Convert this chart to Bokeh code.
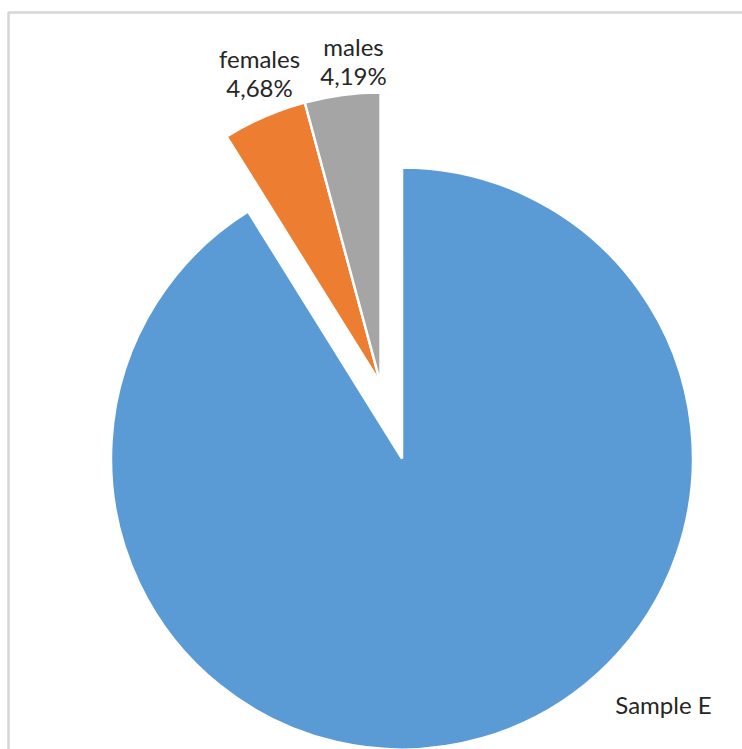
import numpy as np
from bokeh.plotting import figure
from bokeh.models import ColumnDataSource, Range1d
from bokeh.core.properties import value
from bokeh.embed import file_html
from bokeh.resources import INLINE

# Share of each group, in percent
categories = ["Sample E", "females", "males"]
shares = [91.13, 4.68, 4.19]
colors = ["#5B9BD5", "#ED7D31", "#A5A5A5"]
exploded = [False, True, True]
show_percent = [False, True, True]

W, H = 742, 749
cx, cy = 401.5, 291.0
radius = 291.0
explode_dist = 78.0

frac = np.array(shares) / sum(shares)
cum = np.concatenate([[0.0], np.cumsum(frac)])
start = np.pi / 2 - 2 * np.pi * cum[:-1]
end = np.pi / 2 - 2 * np.pi * cum[1:]

# the exploded slices are pulled out together along the bisector of their joint span
ex = np.array(exploded)
idx = np.where(ex)[0]
mid = (start[idx[0]] + end[idx[-1]]) / 2
xs = cx + np.where(ex, explode_dist * np.cos(mid), 0.0)
ys = cy + np.where(ex, explode_dist * np.sin(mid), 0.0)

src = ColumnDataSource(dict(
    cat=categories, x=xs, y=ys, start=start, end=end, color=colors,
))

p = figure(width=W, height=H, x_range=Range1d(0, W), y_range=Range1d(0, H),
           output_backend="svg", toolbar_location=None, min_border=0,
           x_axis_location=None, y_axis_location=None)
p.grid.visible = False
p.outline_line_color = None
p.background_fill_color = "white"

# chart frame
p.quad(left=8, right=W + 40, top=H - 12, bottom=-40,
       fill_color=None, line_color="#d6d6d6", line_width=2.5)

p.wedge(x="x", y="y", radius=radius, start_angle="start", end_angle="end",
        direction="clock", fill_color="color", line_color="white",
        line_width=2.5, source=src)

# data labels
label_text = []
for c, s, sp in zip(categories, shares, show_percent):
    if sp:
        label_text.append(f"{c}\n{s:.2f}%".replace(".", ","))
    else:
        label_text.append(c)
label_x = [663, 259, 353]
label_y = [H - 704, H - 72, H - 60]
lab = ColumnDataSource(dict(x=label_x, y=label_y, t=label_text))
p.text(x="x", y="y", text="t", source=lab, text_align="center",
       text_baseline="middle", text_font=value("Lato"),
       text_font_size="24px", text_color="#262626", text_line_height=1.0)

open("out.html", "w").write(file_html(p, INLINE))
